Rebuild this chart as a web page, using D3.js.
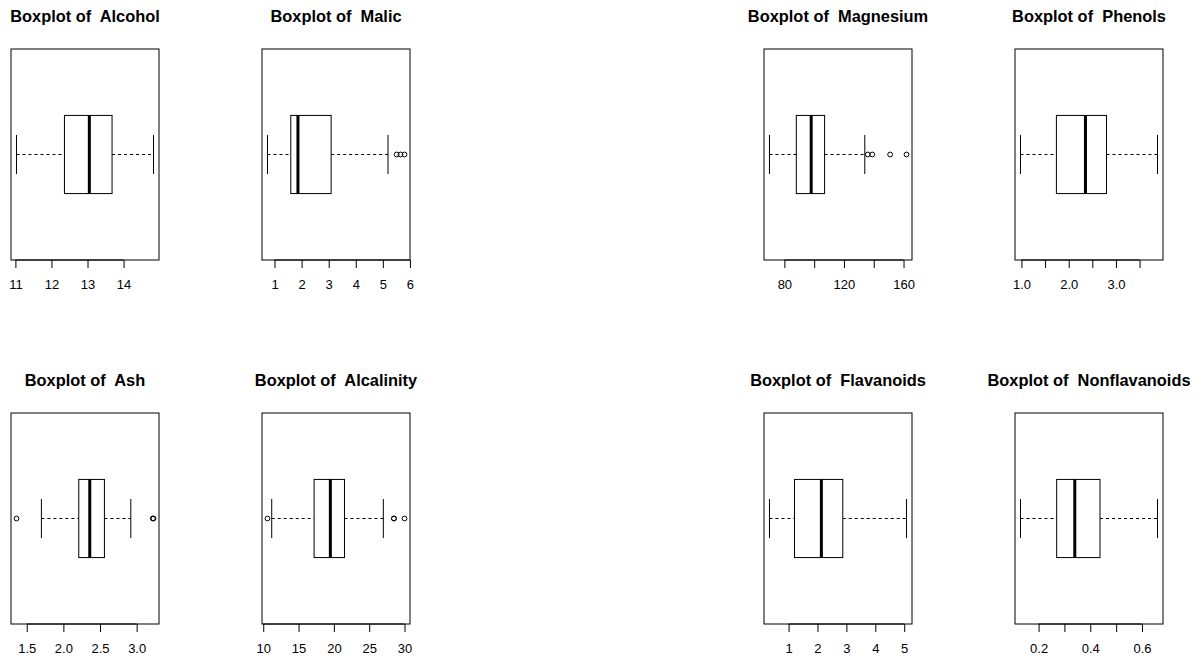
<!DOCTYPE html>
<html>
<head>
<meta charset="utf-8">
<script src="https://cdn.jsdelivr.net/npm/d3@7"></script>
<style>
  html, body { margin: 0; padding: 0; background: #fff; }
  svg { display: block; }
  text { font-family: "Liberation Sans", Arial, Helvetica, sans-serif; fill: #000; }
</style>
</head>
<body>
<svg id="chart" width="1200" height="661"></svg>
<script>
// Wine variables, one boxplot each
const variables = ["Alcohol", "Malic", "Magnesium", "Phenols",
                   "Ash", "Alcalinity", "Flavanoids", "Nonflavanoids"];

// five-number summaries: lower whisker, Q1, median, Q3, upper whisker
const whiskerLow  = [11.03, 0.74, 70, 0.98, 1.70, 11.2, 0.34, 0.13];
const lowerHinge  = [12.36, 1.60, 88, 1.74, 2.21, 17.2, 1.205, 0.27];
const medians     = [13.05, 1.865, 98, 2.355, 2.36, 19.5, 2.135, 0.34];
const upperHinge  = [13.68, 3.09, 107, 2.80, 2.56, 21.5, 2.875, 0.4375];
const whiskerHigh = [14.83, 5.19, 134, 3.88, 2.92, 27.0, 5.08, 0.66];

// points beyond the whiskers
const outliers = [
  [],
  [5.51, 5.65, 5.80],
  [136, 139, 151, 162],
  [],
  [1.36, 3.22, 3.23],
  [10.6, 28.5, 28.5, 30.0],
  [],
  []
];

// axis ticks and the labels printed under them ("" = unlabelled tick)
const tickValues = [
  [11, 12, 13, 14],
  [1, 2, 3, 4, 5, 6],
  [80, 100, 120, 140, 160],
  [1.0, 1.5, 2.0, 2.5, 3.0, 3.5],
  [1.5, 2.0, 2.5, 3.0],
  [10, 15, 20, 25, 30],
  [1, 2, 3, 4, 5],
  [0.2, 0.3, 0.4, 0.5, 0.6]
];
const tickLabels = [
  ["11", "12", "13", "14"],
  ["1", "2", "3", "4", "5", "6"],
  ["80", "", "120", "", "160"],
  ["1.0", "", "2.0", "", "3.0", ""],
  ["1.5", "2.0", "2.5", "3.0"],
  ["10", "15", "20", "25", "30"],
  ["1", "2", "3", "4", "5"],
  ["0.2", "", "0.4", "", "0.6"]
];

// panel grid
const colLeft = [11, 262, 764, 1015];
const rowTop = [49, 413];
const panelW = 148, panelH = 211;

const svg = d3.select("#chart");

variables.forEach((name, i) => {
  const x0 = colLeft[i % 4];
  const y0 = rowTop[Math.floor(i / 4)];
  const g = svg.append("g").attr("transform", `translate(${x0},${y0})`);

  // data range padded by 4% on each side
  const all = [whiskerLow[i], whiskerHigh[i], ...outliers[i]];
  const lo = d3.min(all), hi = d3.max(all);
  const pad = (hi - lo) * 0.04;
  const x = d3.scaleLinear().domain([lo - pad, hi + pad]).range([0, panelW]);
  // vertical position: single group at 1, range 0.5..1.5 padded by 4%
  const y = d3.scaleLinear().domain([1.54, 0.46]).range([0, panelH]);
  const yc = y(1);
  const boxTop = y(1.2), boxBot = y(0.8);
  const capTop = y(1.1), capBot = y(0.9);

  // whiskers (dashed)
  g.append("line")
    .attr("x1", x(whiskerLow[i])).attr("x2", x(lowerHinge[i]))
    .attr("y1", yc).attr("y2", yc)
    .attr("stroke", "#000").attr("stroke-dasharray", "3,3");
  g.append("line")
    .attr("x1", x(upperHinge[i])).attr("x2", x(whiskerHigh[i]))
    .attr("y1", yc).attr("y2", yc)
    .attr("stroke", "#000").attr("stroke-dasharray", "3,3");

  // staples
  [whiskerLow[i], whiskerHigh[i]].forEach(v => {
    g.append("line")
      .attr("x1", x(v)).attr("x2", x(v))
      .attr("y1", capTop).attr("y2", capBot)
      .attr("stroke", "#000");
  });

  // box
  g.append("rect")
    .attr("x", x(lowerHinge[i])).attr("y", boxTop)
    .attr("width", x(upperHinge[i]) - x(lowerHinge[i]))
    .attr("height", boxBot - boxTop)
    .attr("fill", "#fff").attr("stroke", "#000");

  // median
  g.append("line")
    .attr("x1", x(medians[i])).attr("x2", x(medians[i]))
    .attr("y1", boxTop).attr("y2", boxBot)
    .attr("stroke", "#000").attr("stroke-width", 3);

  // outliers
  g.selectAll("circle.out").data(outliers[i]).join("circle")
    .attr("class", "out")
    .attr("cx", d => x(d)).attr("cy", yc).attr("r", 2.4)
    .attr("fill", "none").attr("stroke", "#000");

  // frame
  g.append("rect")
    .attr("x", 0).attr("y", 0).attr("width", panelW).attr("height", panelH)
    .attr("fill", "none").attr("stroke", "#000");

  // bottom axis
  const labels = tickLabels[i];
  const axis = d3.axisBottom(x)
    .tickValues(tickValues[i])
    .tickSize(8)
    .tickPadding(12)
    .tickFormat((d, k) => labels[k]);
  const ax = g.append("g").attr("transform", `translate(0,${panelH})`).call(axis);
  ax.select(".domain").remove();
  ax.selectAll("line").attr("stroke", "#000");
  ax.selectAll("text")
    .attr("font-size", 13)
    .style("font-family", "'Liberation Sans', Arial, sans-serif")
    .attr("fill", "#000");
  // axis line between first and last tick
  const tv = tickValues[i];
  ax.append("line")
    .attr("x1", x(tv[0])).attr("x2", x(tv[tv.length - 1]))
    .attr("y1", 0).attr("y2", 0).attr("stroke", "#000");

  // title
  g.append("text")
    .attr("x", panelW / 2).attr("y", -27)
    .attr("text-anchor", "middle")
    .attr("font-size", 16.4).attr("font-weight", "bold")
    .style("white-space", "pre")
    .attr("xml:space", "preserve")
    .text("Boxplot of  " + name);
});
</script>
</body>
</html>
